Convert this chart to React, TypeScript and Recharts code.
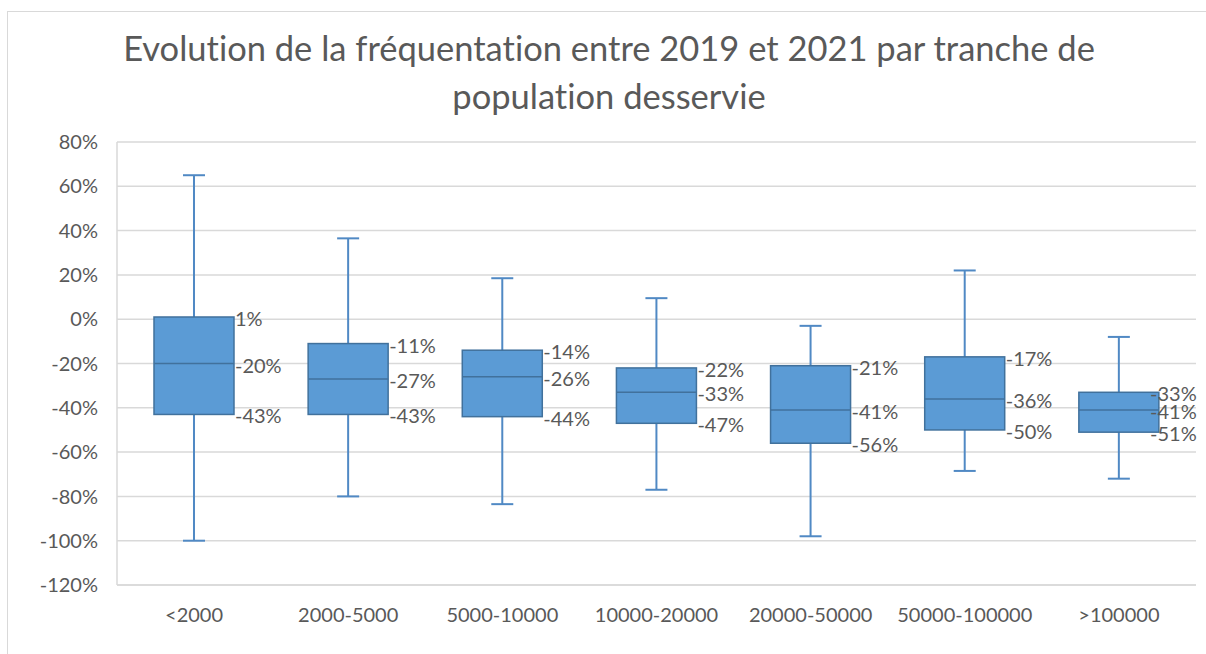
import { ComposedChart, Bar, XAxis, YAxis, CartesianGrid } from "recharts";

const categories = ["<2000", "2000-5000", "5000-10000", "10000-20000", "20000-50000", "50000-100000", ">100000"];
const whiskerMax = [65, 36.5, 18.5, 9.5, -3, 22, -8];
const quartile3 = [1, -11, -14, -22, -21, -17, -33];
const medians = [-20, -27, -26, -33, -41, -36, -41];
const quartile1 = [-43, -43, -44, -47, -56, -50, -51];
const whiskerMin = [-100, -80, -83.5, -77, -98, -68.5, -72];
const yTicks = [-120, -100, -80, -60, -40, -20, 0, 20, 40, 60, 80];

const data = categories.map((name, i) => ({
  name,
  range: [whiskerMin[i], whiskerMax[i]],
  min: whiskerMin[i],
  q1: quartile1[i],
  median: medians[i],
  q3: quartile3[i],
  max: whiskerMax[i],
}));

const FILL = "#5b9bd5";
const EDGE = "#41719c";
const WHISKER = "#5089c4";
const TEXT = "#595959";
const FONT = "Lato, 'Open Sans', sans-serif";

function BoxShape(props: any) {
  const { x, y, width, height, payload } = props;
  const top = Math.min(y, y + height);
  const bottom = Math.max(y, y + height);
  const { min, q1, median, q3, max } = payload;
  const toY = (v: number) => top + ((max - v) / (max - min)) * (bottom - top);
  const cx = x + width / 2;
  const cap = 11;
  const right = x + width;
  const labelX = Math.min(right + 1, 1150);
  const yQ3 = toY(q3);
  const yQ1 = toY(q1);
  const yMed = toY(median);
  const labels = [q3, median, q1];
  return (
    <g>
      <line x1={cx} x2={cx} y1={top} y2={bottom} stroke={WHISKER} strokeWidth={2} />
      <line x1={cx - cap} x2={cx + cap} y1={top} y2={top} stroke={WHISKER} strokeWidth={2} />
      <line x1={cx - cap} x2={cx + cap} y1={bottom} y2={bottom} stroke={WHISKER} strokeWidth={2} />
      <rect x={x} y={yQ3} width={width} height={yQ1 - yQ3} fill={FILL} stroke={EDGE} strokeWidth={1.5} />
      <line x1={x} x2={right} y1={yMed} y2={yMed} stroke={EDGE} strokeWidth={1.5} />
      {labels.map((v, i) => (
        <text
          key={i}
          x={labelX}
          y={toY(v) + 2}
          dy="0.35em"
          fontSize={20}
          fontFamily={FONT}
          fill={TEXT}
        >
          {`${Math.round(v)}%`}
        </text>
      ))}
    </g>
  );
}

export default function App() {
  return (
    <div style={{ position: "absolute", left: 0, top: 0, width: 1206, height: 654, background: "#fff", overflow: "hidden" }}>
      <div
        style={{
          position: "absolute",
          left: 7,
          top: 11,
          width: 1220,
          height: 660,
          border: "1px solid #d9d9d9",
        }}
      />
      <div
        style={{
          position: "absolute",
          left: 0,
          top: 24,
          width: 1218,
          textAlign: "center",
          fontFamily: FONT,
          fontSize: 34.5,
          lineHeight: "48px",
          color: TEXT,
          fontVariantLigatures: "none",
        }}
      >
        Evolution de la fréquentation entre 2019 et 2021 par tranche de
        <br />
        population desservie
      </div>
      <div style={{ position: "absolute", left: 0, top: 0 }}>
        <ComposedChart
          width={1206}
          height={654}
          data={data}
          margin={{ top: 142, right: 10, bottom: 29, left: 0 }}
          barCategoryGap="24%"
        >
          <CartesianGrid vertical={false} stroke="#d9d9d9" strokeWidth={1.5} />
          <XAxis
            dataKey="name"
            height={40}
            tickLine={false}
            tickSize={0}
            tickMargin={23}
            axisLine={{ stroke: "#d9d9d9", strokeWidth: 1.5 }}
            tick={{ fill: TEXT, fontSize: 20, fontFamily: FONT }}
          />
          <YAxis
            width={117}
            domain={[-120, 80]}
            ticks={yTicks}
            interval={0}
            tickLine={false}
            tickSize={0}
            tickMargin={19}
            axisLine={{ stroke: "#d9d9d9", strokeWidth: 1.5 }}
            tickFormatter={(v) => `${v}%`}
            tick={{ fill: TEXT, fontSize: 20, fontFamily: FONT }}
          />
          <Bar dataKey="range" shape={BoxShape} isAnimationActive={false} />
        </ComposedChart>
      </div>
    </div>
  );
}
